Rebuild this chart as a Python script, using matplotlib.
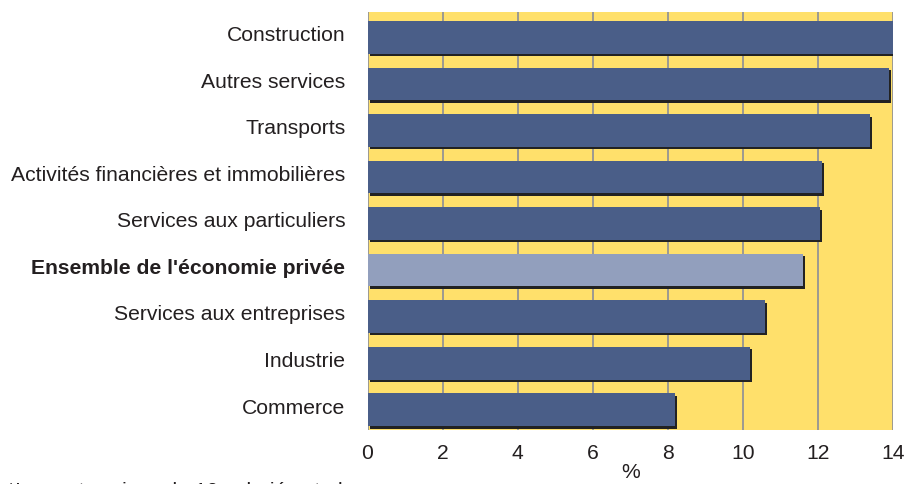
import matplotlib
matplotlib.use("Agg")
import matplotlib.pyplot as plt
import matplotlib.patheffects as pe
import numpy as np

categories = [
    "Construction",
    "Autres services",
    "Transports",
    "Activités financières et immobilières",
    "Services aux particuliers",
    "Ensemble de l'économie privée",
    "Services aux entreprises",
    "Industrie",
    "Commerce",
]
values = [14.0, 13.9, 13.4, 12.1, 12.05, 11.6, 10.6, 10.2, 8.2]
highlight = "Ensemble de l'économie privée"
xticks = [0, 2, 4, 6, 8, 10, 12, 14]

plt.rcParams['font.family'] = ['Liberation Sans', 'DejaVu Sans']
fs = 15.2

fig = plt.figure(figsize=(9.12, 4.84), dpi=100)
ax = fig.add_axes([0.403, 0.112, 0.576, 0.863])
ax.set_facecolor('#ffe06b')

y = np.arange(len(categories))[::-1]
colors = ['#929fbd' if c == highlight else '#4a5e88' for c in categories]
shadow = [pe.SimplePatchShadow(offset=(1.5, -1.8), shadow_rgbFace='#222222', alpha=1), pe.Normal()]
bars = ax.barh(y, values, height=0.7, color=colors, zorder=3)
for b in bars:
    b.set_path_effects(shadow)

ax.set_xlim(0, 14)
ax.set_ylim(-0.43, 8.54)
ax.set_xticks(xticks)
ax.set_yticks(y + 0.08)
ax.set_yticklabels(categories)
for lbl in ax.get_yticklabels():
    if lbl.get_text() == highlight:
        lbl.set_fontweight('bold')
ax.tick_params(axis='y', length=0, pad=16, labelsize=fs, colors='#231f20')
ax.tick_params(axis='x', length=0, pad=10, labelsize=fs, colors='#231f20')
ax.grid(axis='x', color='#949494', linewidth=1.3, zorder=1)
ax.set_axisbelow(True)
for s in ax.spines.values():
    s.set_visible(False)

ax.set_xlabel('%', fontsize=fs, color='#231f20', labelpad=0)
# footnote sits mostly below the bottom edge, as in the source image
fig.text(0.008, -0.027, "*Les entreprises de 10 salariés et plus", fontsize=fs, color='#231f20')

fig.savefig('out.png', dpi=100)
